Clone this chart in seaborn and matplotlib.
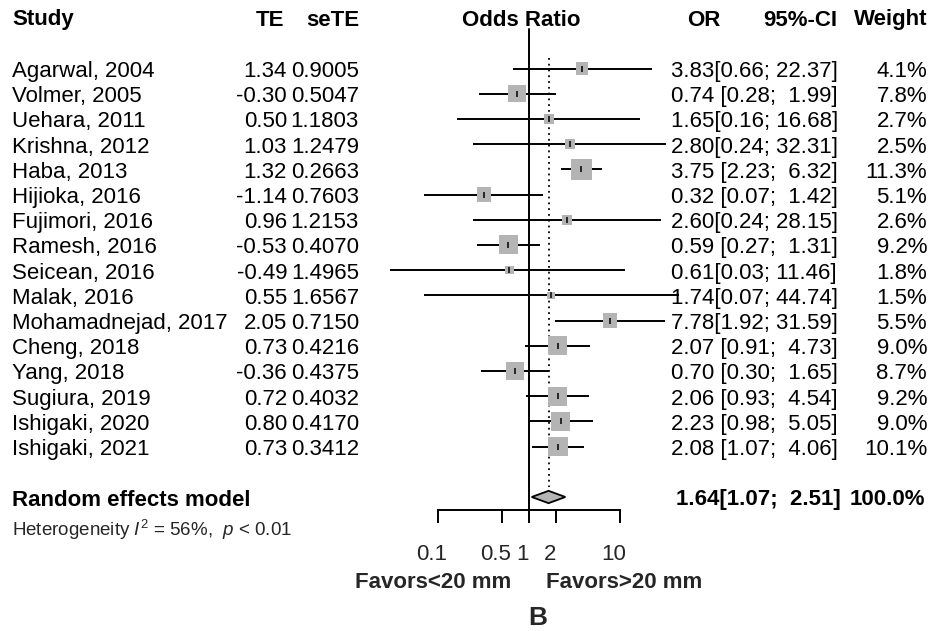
import numpy as np
import matplotlib
matplotlib.use("Agg")
import matplotlib.pyplot as plt
import matplotlib.transforms as mtransforms
import seaborn as sns

# study level data
studies = ["Agarwal, 2004", "Volmer, 2005", "Uehara, 2011", "Krishna, 2012",
           "Haba, 2013", "Hijioka, 2016", "Fujimori, 2016", "Ramesh, 2016",
           "Seicean, 2016", "Malak, 2016", "Mohamadnejad, 2017", "Cheng, 2018",
           "Yang, 2018", "Sugiura, 2019", "Ishigaki, 2020", "Ishigaki, 2021"]
te = [1.34, -0.30, 0.50, 1.03, 1.32, -1.14, 0.96, -0.53, -0.49, 0.55, 2.05,
      0.73, -0.36, 0.72, 0.80, 0.73]
se_te = [0.9005, 0.5047, 1.1803, 1.2479, 0.2663, 0.7603, 1.2153, 0.4070,
         1.4965, 1.6567, 0.7150, 0.4216, 0.4375, 0.4032, 0.4170, 0.3412]
odds = [3.83, 0.74, 1.65, 2.80, 3.75, 0.32, 2.60, 0.59, 0.61, 1.74, 7.78,
        2.07, 0.70, 2.06, 2.23, 2.08]
ci_low = [0.66, 0.28, 0.16, 0.24, 2.23, 0.07, 0.24, 0.27, 0.03, 0.07, 1.92,
          0.91, 0.30, 0.93, 0.98, 1.07]
ci_high = [22.37, 1.99, 16.68, 32.31, 6.32, 1.42, 28.15, 1.31, 11.46, 44.74,
           31.59, 4.73, 1.65, 4.54, 5.05, 4.06]
weight = [4.1, 7.8, 2.7, 2.5, 11.3, 5.1, 2.6, 9.2, 1.8, 1.5, 5.5, 9.0, 8.7,
          9.2, 9.0, 10.1]

# random effects summary
pooled_or = 1.64
pooled_low = 1.07
pooled_high = 2.51
pooled_label = "1.64[1.07;  2.51]"
pooled_weight = "100.0%"

tick_vals = [0.1, 0.5, 1, 2, 10]
tick_labels = ["0.1", "0.5", "1", "2", "10"]


def ci_label(o, lo, hi):
    if hi >= 10:
        return f"{o:.2f}[{lo:.2f}; {hi:.2f}]"
    return f"{o:.2f} [{lo:.2f};  {hi:.2f}]"


sns.set_theme(style="white")
plt.rcParams['font.family'] = ['Liberation Sans', 'DejaVu Sans']
plt.rcParams['mathtext.fontset'] = 'custom'
plt.rcParams['mathtext.rm'] = 'Liberation Sans'
plt.rcParams['mathtext.it'] = 'Liberation Sans:italic'

W, H = 931, 631
fig = plt.figure(figsize=(W / 100, H / 100), dpi=100)
fig.patch.set_facecolor("white")

# forest panel: 529px is OR=1, 91px per decade, rows 25.2px apart
row0, pitch = 68.5, 25.2
ax = fig.add_axes([380 / W, (H - 510) / H, 320 / W, 510 / H])
ax.patch.set_visible(False)
ax.set_xscale("log")
ax.set_xlim(10 ** ((380 - 529) / 91), 10 ** ((700 - 529) / 91))
ax.set_ylim((510 - row0) / pitch, -row0 / pitch)

rows = np.arange(len(studies))
summary_y = (497 - row0) / pitch
header_y = (20 - row0) / pitch
fs = 16
grey = "#b4b4b4"

# confidence intervals
ax.hlines(rows, ci_low, ci_high, color="black", lw=1.4, zorder=2)

# weight squares (area proportional to weight)
side_pt = 6.2 * np.sqrt(weight) * 0.72
sns.scatterplot(x=odds, y=rows, marker="s", s=side_pt ** 2, color=grey,
                linewidth=0, legend=False, ax=ax, zorder=3)
ax.plot(odds, rows, ls="none", marker="|", color="black", ms=5, mew=1.1,
        zorder=4)

# reference lines
ax.axvline(1, ymin=0, ymax=(510 - 29) / 510, color="black", lw=1.4, zorder=1)
ax.vlines(pooled_or, (58 - row0) / pitch, summary_y - 0.38, color="black",
          lw=1.3, linestyles=(0, (1, 2.2)), zorder=1)

# summary diamond
ax.fill([pooled_low, pooled_or, pooled_high, pooled_or],
        [summary_y, summary_y - 0.245, summary_y, summary_y + 0.245],
        facecolor=grey, edgecolor="black", lw=1.3, zorder=3)

# axis
for s in ["left", "top", "right"]:
    ax.spines[s].set_visible(False)
ax.spines["bottom"].set_bounds(0.1, 10)
ax.spines["bottom"].set_linewidth(1.4)
ax.spines["bottom"].set_color("black")
ax.set_xticks(tick_vals)
ax.set_xticklabels(tick_labels)
ax.xaxis.set_minor_locator(matplotlib.ticker.NullLocator())
ax.tick_params(axis="x", direction="out", length=9.4, width=1.4, color="black",
               pad=15, labelsize=fs, bottom=True)
for lab in ax.get_xticklabels():
    lab.set_transform(lab.get_transform() +
                      mtransforms.ScaledTranslation(-6 / 100, 0, fig.dpi_scale_trans))
ax.set_yticks([])

# text columns
tr = mtransforms.blended_transform_factory(fig.transFigure, ax.transData)


def col(px):
    return px / W


txt = dict(transform=tr, fontsize=fs, va="center", color="black", clip_on=False)
ax.text(col(12), header_y, "Study", ha="left", weight="bold", **txt)
ax.text(col(284), header_y, "TE", ha="right", weight="bold", **txt)
ax.text(col(359), header_y, "seTE", ha="right", weight="bold", **txt)
ax.text(col(521), header_y, "Odds Ratio", ha="center", weight="bold", **txt)
ax.text(col(704), header_y, "OR", ha="center", weight="bold", **txt)
ax.text(col(837), header_y, "95%-CI", ha="right", weight="bold", **txt)
ax.text(col(927), header_y, "Weight", ha="right", weight="bold", **txt)

for i, name in enumerate(studies):
    y = rows[i] + 0.12
    ax.text(col(12), y, name, ha="left", **txt)
    ax.text(col(287), y, f"{te[i]:.2f}", ha="right", **txt)
    ax.text(col(359), y, f"{se_te[i]:.4f}", ha="right", **txt)
    ax.text(col(671), y, ci_label(odds[i], ci_low[i], ci_high[i]), ha="left", **txt)
    ax.text(col(927), y, f"{weight[i]:.1f}%", ha="right", **txt)

ax.text(col(12), summary_y + 0.15, "Random effects model", ha="left",
        weight="bold", **txt)
ax.text(col(676), summary_y + 0.1, pooled_label, ha="left", weight="bold", **txt)
ax.text(col(925), summary_y + 0.1, pooled_weight, ha="right", weight="bold", **txt)
ax.text(col(12), (530 - row0) / pitch, r"Heterogeneity $I^2$ = 56%,  $p$ < 0.01",
        transform=tr, fontsize=13.5, ha="left", va="center", clip_on=False)

# direction labels and panel letter
fig.text(433 / W, 1 - 582 / H, "Favors<20 mm", ha="center", va="center",
         fontsize=fs, weight="bold")
fig.text(624 / W, 1 - 582 / H, "Favors>20 mm", ha="center", va="center",
         fontsize=fs, weight="bold")
fig.text(538 / W, 1 - 618 / H, "B", ha="center", va="center",
         fontsize=19, weight="bold")

fig.savefig("out.png", dpi=100)
